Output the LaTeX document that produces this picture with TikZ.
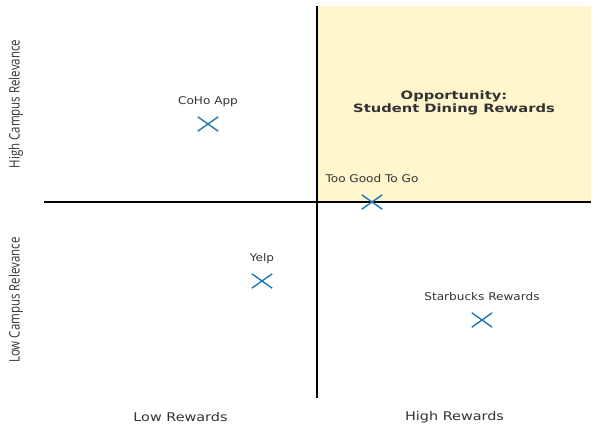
\documentclass[tikz,border=0pt]{standalone}
\usepackage{fontspec}
\setmainfont{DejaVu Sans}
\newfontfamily\ylabelfont{Open Sans}
\usepackage{tikz}
\usetikzlibrary{shapes.misc}
\usepackage{xcolor}

\definecolor{oppyellow}{RGB}{255,246,205}
\definecolor{markblue}{RGB}{31,119,180}
\definecolor{textgray}{RGB}{51,51,51}

\tikzset{
  marker/.style={draw=markblue, line width=1.4, cross out, inner sep=0pt, minimum width=19, minimum height=13},
  ptlabel/.style={anchor=base, inner sep=0.75pt, xscale=1.14, font=\fontsize{10.6}{12}\selectfont, text=textgray},
  axlabel/.style={inner sep=0.75pt, xscale=1.2, font=\fontsize{12}{14}\selectfont, text=textgray},
  ylabel/.style={inner sep=0.75pt, rotate=90, yscale=1.25, font=\ylabelfont\fontsize{11.5}{13}\selectfont, text=textgray}
}

\begin{document}
\begin{tikzpicture}[x=1pt,y=1pt,yscale=-1,xscale=1]
\useasboundingbox (0,0) rectangle (600,430);

%Shape: Rectangle [opportunity quadrant]
\fill [oppyellow] (317,6) rectangle (591,202);
%Straight Lines [axes]
\draw [line width=1.6] (44,202) -- (591,202);
\draw [line width=1.6] (317,6) -- (317,398);

%Markers
\node [marker] (coho) at (208,124) {};
\node [marker] (yelp) at (262,281) {};
\node [marker] (tgtg) at (372,202) {};
\node [marker] (sbux) at (482,320) {};

% Text Node
\node [ptlabel] (cohoLabel) at (208,104.5) {CoHo App};
% Text Node
\node [ptlabel] (yelpLabel) at (262,261.5) {Yelp};
% Text Node
\node [ptlabel] (tgtgLabel) at (372,183) {Too Good To Go};
% Text Node
\node [ptlabel] (sbuxLabel) at (482,300.5) {Starbucks Rewards};

% Text Node
\node [align=center, inner sep=0.75pt, xscale=1.28, font=\bfseries\fontsize{11.5}{13}\selectfont, text=textgray] (oppLabel) at (454,103) {Opportunity:\\Student Dining Rewards};

% Text Node
\node [axlabel] (lowRew) at (180.5,417) {Low Rewards};
% Text Node
\node [axlabel] (highRew) at (454.5,417) {High Rewards};
% Text Node
\node [ylabel] (highRel) at (16,104) {High Campus Relevance};
% Text Node
\node [ylabel] (lowRel) at (16,300) {Low Campus Relevance};

\end{tikzpicture}
\end{document}
